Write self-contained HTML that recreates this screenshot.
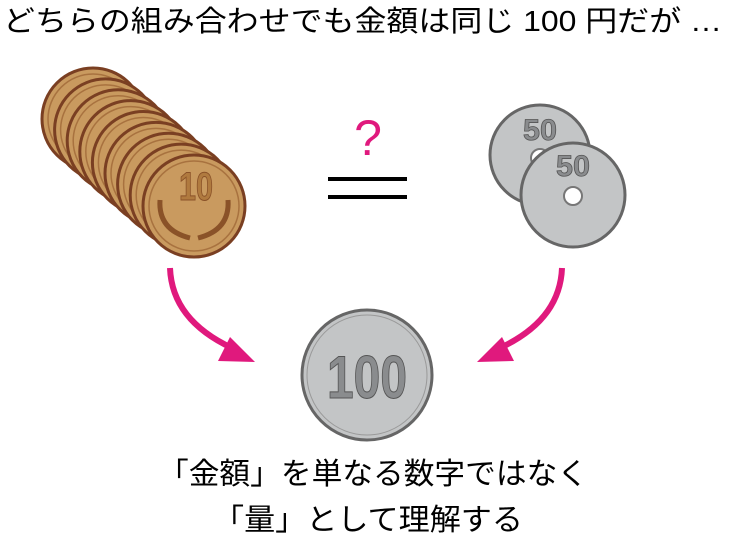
<!DOCTYPE html>
<html><head><meta charset="utf-8"><style>
html,body{margin:0;padding:0;background:#fff;}
svg{display:block}
text{font-family:"Liberation Sans","Noto Sans CJK JP",sans-serif;}
</style></head><body>
<svg width="736" height="543" viewBox="0 0 736 543" xmlns="http://www.w3.org/2000/svg">
<defs>
<g id="c10">
<circle r="51" fill="#c99a5f" stroke="#7a3f22" stroke-width="3"/>
<circle r="45" fill="none" stroke="#a8723f" stroke-width="1.5"/>
</g>
</defs>
<text x="3" y="31" font-size="29" textLength="719" lengthAdjust="spacingAndGlyphs">どちらの組み合わせでも金額は同じ 100 円だが …</text>

<g>
<use href="#c10" x="93" y="119"/>
<use href="#c10" x="105.6" y="129.9"/>
<use href="#c10" x="118.2" y="140.8"/>
<use href="#c10" x="130.8" y="151.6"/>
<use href="#c10" x="143.4" y="162.5"/>
<use href="#c10" x="156" y="173.4"/>
<use href="#c10" x="168.6" y="184.3"/>
<use href="#c10" x="181.2" y="195.1"/>
<use href="#c10" x="194" y="206"/>
<text x="196" y="200" font-size="40" font-weight="bold" fill="#b07a3f" stroke="#8a5228" stroke-width="1" text-anchor="middle" textLength="34" lengthAdjust="spacingAndGlyphs">10</text>
<path d="M160 200 Q158 230 190 238 M228 200 Q230 230 198 238" fill="none" stroke="#8a5228" stroke-width="5"/>
</g>

<text x="368" y="155" font-size="50" fill="#e0197d" text-anchor="middle">?</text>
<rect x="328" y="177" width="79" height="4" fill="#000"/>
<rect x="328" y="195" width="79" height="4" fill="#000"/>

<circle cx="540" cy="155" r="50" fill="#c3c5c6" stroke="#666" stroke-width="3"/>
<text x="540" y="140" font-size="30" font-weight="bold" fill="#8a8c8e" stroke="#555" stroke-width="0.8" text-anchor="middle" textLength="34" lengthAdjust="spacingAndGlyphs">50</text>
<circle cx="540" cy="158" r="9" fill="#fff" stroke="#777" stroke-width="2"/>
<circle cx="573" cy="195" r="52" fill="#c3c5c6" stroke="#666" stroke-width="3"/>
<text x="573" y="176" font-size="30" font-weight="bold" fill="#8a8c8e" stroke="#555" stroke-width="0.8" text-anchor="middle" textLength="34" lengthAdjust="spacingAndGlyphs">50</text>
<circle cx="573" cy="196" r="9" fill="#fff" stroke="#777" stroke-width="2"/>

<circle cx="367" cy="375" r="65" fill="#c3c5c6" stroke="#666" stroke-width="3"/>
<circle cx="367" cy="375" r="60" fill="none" stroke="#999" stroke-width="1"/>
<text x="367" y="398" font-size="60" font-weight="bold" fill="#8a8c8e" stroke="#555" stroke-width="1" text-anchor="middle" textLength="80" lengthAdjust="spacingAndGlyphs">100</text>

<path d="M170 268 Q172 320 232 348" fill="none" stroke="#e0197d" stroke-width="6"/>
<polygon points="255,362 218,361 230,337" fill="#e0197d"/>
<path d="M562 268 Q560 320 500 348" fill="none" stroke="#e0197d" stroke-width="6"/>
<polygon points="477,362 514,361 502,337" fill="#e0197d"/>

<text x="373" y="484" font-size="30" text-anchor="middle" textLength="430" lengthAdjust="spacingAndGlyphs">「金額」を単なる数字ではなく</text>
<text x="368" y="530" font-size="30" text-anchor="middle" textLength="310" lengthAdjust="spacingAndGlyphs">「量」として理解する</text>
</svg>
</body></html>
